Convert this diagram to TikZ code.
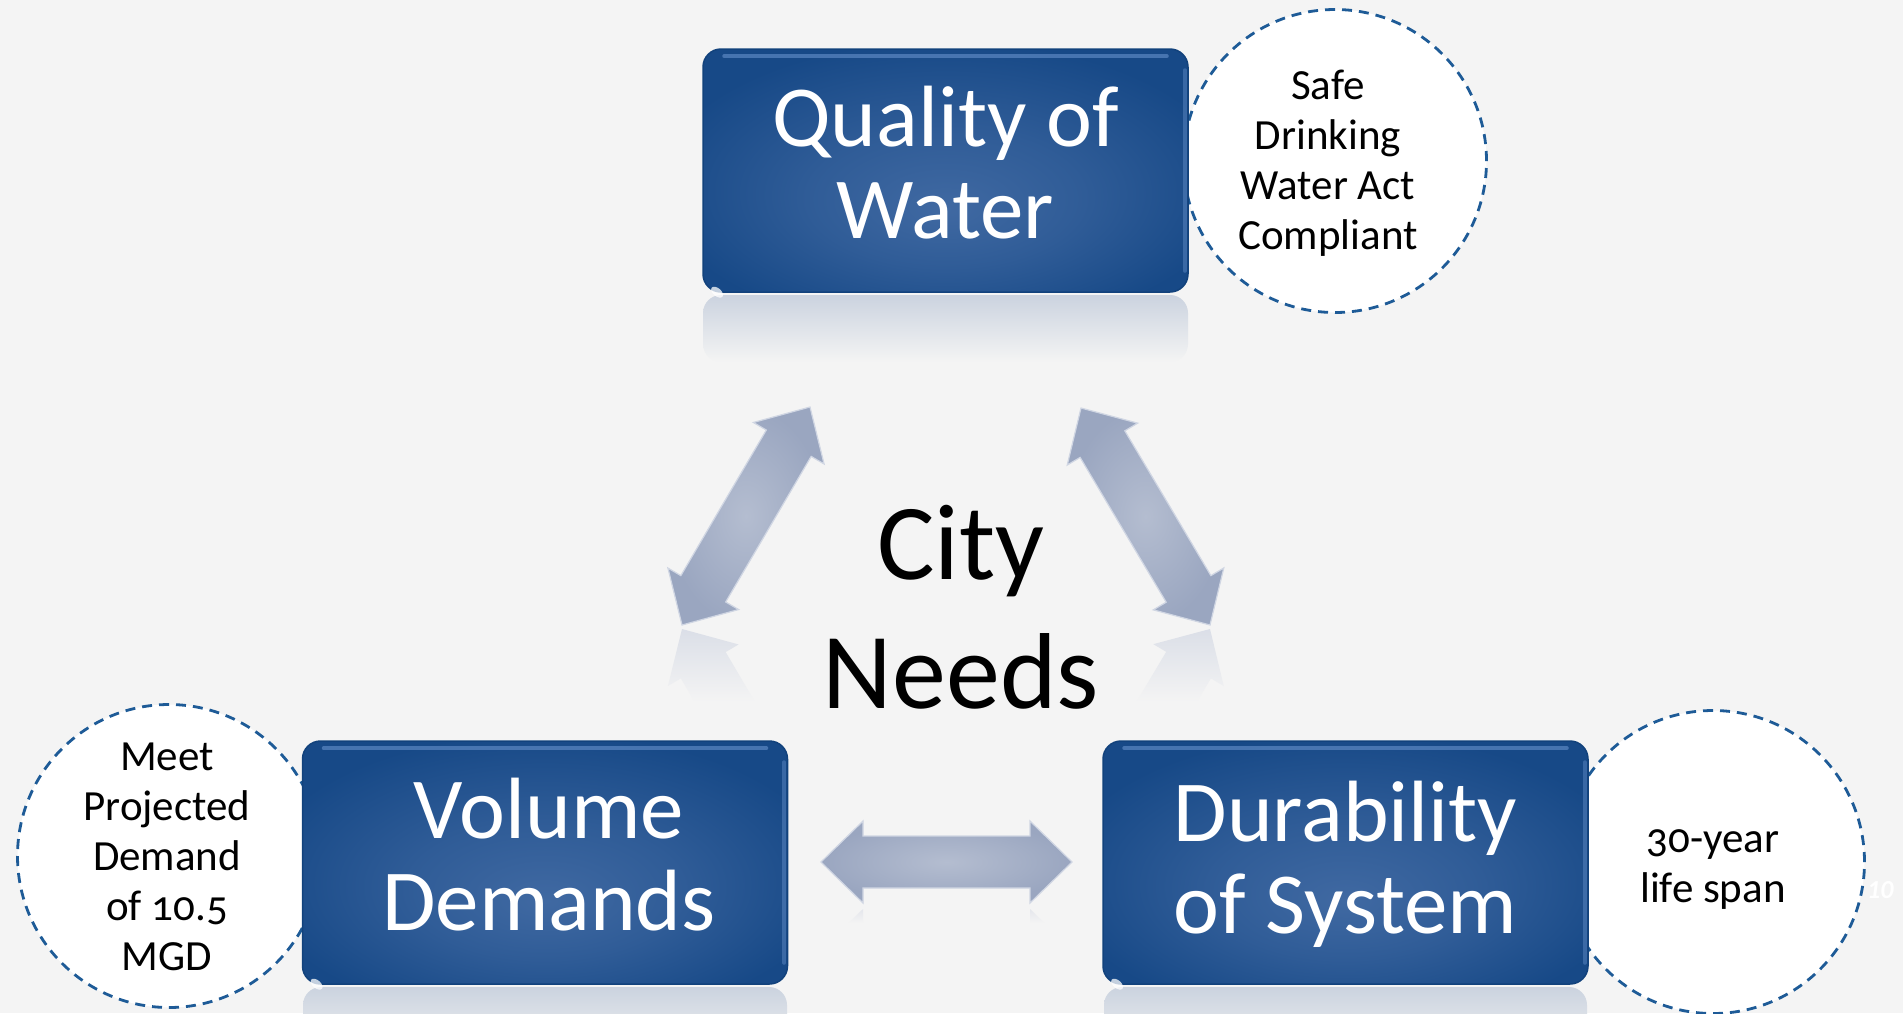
\documentclass[tikz,border=0pt]{standalone}
\usepackage{fontspec}
\setmainfont{Carlito}
\newfontfamily\osf[Numbers=OldStyle]{Carlito}
\usetikzlibrary{calc}
\definecolor{bg}{HTML}{F4F4F4}
\definecolor{boxdark}{HTML}{174987}
\definecolor{boxlight}{HTML}{4069A2}
\definecolor{boxedge}{HTML}{12427C}
\definecolor{boxhi}{HTML}{6E98D2}
\definecolor{dashblue}{HTML}{1E5B97}
\definecolor{arrowlight}{HTML}{B4BDD0}
\definecolor{arrowdark}{HTML}{9AA6C0}
\definecolor{arrowedge}{HTML}{D0D6E3}
\definecolor{refl}{HTML}{CBD3DF}
\definecolor{arefl}{HTML}{DADEE7}
\pgfdeclareradialshading{boxshade}{\pgfpoint{0bp}{-8bp}}{color(0bp)=(boxlight); color(14bp)=(boxlight!60!boxdark); color(30bp)=(boxdark); color(50bp)=(boxdark)}
\newcommand\arrowends[2]{%
  \coordinate (#1h) at ($(#1)!42pt!(#2)$);
  \coordinate (#2h) at ($(#2)!42pt!(#1)$);}
\newcommand\dblarrowpath[2]{(#1) -- ($(#1h)!41pt!90:(#2)$) -- ($(#1h)!26pt!90:(#2)$) -- ($(#2h)!26pt!-90:(#1)$) -- ($(#2h)!41pt!-90:(#1)$) -- (#2) -- ($(#2h)!41pt!90:(#1)$) -- ($(#2h)!26pt!90:(#1)$) -- ($(#1h)!26pt!-90:(#2)$) -- ($(#1h)!41pt!-90:(#2)$) -- cycle}
\tikzset{
  needbox/.style={rectangle, rounded corners=18pt, shade, shading=boxshade, draw=boxedge, line width=1.5pt, minimum width=485pt, minimum height=243pt, inner sep=0pt},
  boxtext/.style={text=white, align=center, inner sep=0pt, font=\fontsize{87}{92}\selectfont},
  bubble/.style={circle, fill=white, draw=dashblue, line width=2.8pt, dash pattern=on 10pt off 7pt, inner sep=0pt, minimum size=303pt},
  bubbletext/.style={text=black, align=center, inner sep=0pt, font=\osf\fontsize{43}{50}\selectfont},
  blockarrow/.style={inner color=arrowlight, outer color=arrowdark, draw=arrowedge, line width=1.2pt, line join=miter},
  bevel/.style={boxhi, line width=4pt, line cap=round, opacity=0.55},
}
\begin{document}
\begin{tikzpicture}[x=1pt, y=-1pt]
\useasboundingbox (0,0) rectangle (1903,1013);
\fill[bg] (0,0) rectangle (1903,1013);

% reflections of the boxes
\shade[top color=refl, bottom color=bg, rounded corners=18pt] (703,295) rectangle (1188,362);
\shade[top color=refl, bottom color=bg, rounded corners=18pt] (303,987) rectangle (787,1060);
\shade[top color=refl, bottom color=bg, rounded corners=18pt] (1104,987) rectangle (1587,1060);

% arrow end points and their mirror images
\coordinate (la1) at (682,625); \coordinate (la2) at (810,407);
\coordinate (ra1) at (1081,408); \coordinate (ra2) at (1210,625);
\coordinate (ha1) at (821,862); \coordinate (ha2) at (1072,862);
\coordinate (lm1) at (682,629); \coordinate (lm2) at (810,847);
\coordinate (rm1) at (1081,846); \coordinate (rm2) at (1210,629);
\coordinate (hm1) at (821,950); \coordinate (hm2) at (1072,950);
\arrowends{la1}{la2} \arrowends{ra1}{ra2} \arrowends{ha1}{ha2}
\arrowends{lm1}{lm2} \arrowends{rm1}{rm2} \arrowends{hm1}{hm2}

% arrow reflections
\begin{scope}
  \clip \dblarrowpath{lm1}{lm2};
  \shade[top color=arefl, bottom color=bg] (640,627) rectangle (790,702);
\end{scope}
\begin{scope}
  \clip \dblarrowpath{rm1}{rm2};
  \shade[top color=arefl, bottom color=bg] (1110,627) rectangle (1260,702);
\end{scope}
\begin{scope}
  \clip \dblarrowpath{hm1}{hm2};
  \shade[top color=arefl!70!bg, bottom color=bg] (800,907) rectangle (1100,923);
\end{scope}

% dashed bubbles
\node[bubble] (b1) at (1335,161) {};
\node[bubble] (b2) at (169,856) {};
\node[bubble] (b3) at (1713,862) {};

% boxes
\node[needbox] (quality) at (945.5,170.5) {};
\node[needbox] (volume) at (545,862.5) {};
\node[needbox] (durability) at (1345.5,862.5) {};
\foreach \n in {quality,volume,durability}{
  \draw[bevel] ($(\n.north west)+(22,8)$) -- ($(\n.north east)+(-22,8)$);
  \draw[bevel, opacity=0.4] ($(\n.north east)+(-4,22)$) -- ($(\n.south east)+(-4,-22)$);
  \fill[white, opacity=0.75, rotate around={-40:($(\n.south west)+(11,-10)$)}] ($(\n.south west)+(11,-10)$) ellipse (7 and 4);
}

% block arrows
\shadedraw[blockarrow] \dblarrowpath{la1}{la2};
\shadedraw[blockarrow] \dblarrowpath{ra1}{ra2};
\shadedraw[blockarrow] \dblarrowpath{ha1}{ha2};

% texts
\node[boxtext] (tq) at (945.5,163) {Quality of\\Water};
\node[boxtext] (tv) at (549,855) {Volume\\Demands};
\node[boxtext] (td) at (1345.5,864) {Durability\\of System};
\node[text=black, align=center, inner sep=0pt, font=\fontsize{108}{129}\selectfont] (city) at (961,607.5) {City\\Needs};
\node[bubbletext] (s1) at (1328,163.5) {Safe\\Drinking\\Water Act\\Compliant};
\node[bubbletext] (s2) at (167,856.5) {Meet\\Projected\\Demand\\of 10.5\\MGD};
\node[bubbletext] (s3) at (1713,870) {30-year\\life span};
\node[text=white, anchor=base west, inner sep=0pt, font=\fontsize{26}{30}\selectfont\bfseries\itshape] (pg) at (1867,898) {10};
\end{tikzpicture}
\end{document}
